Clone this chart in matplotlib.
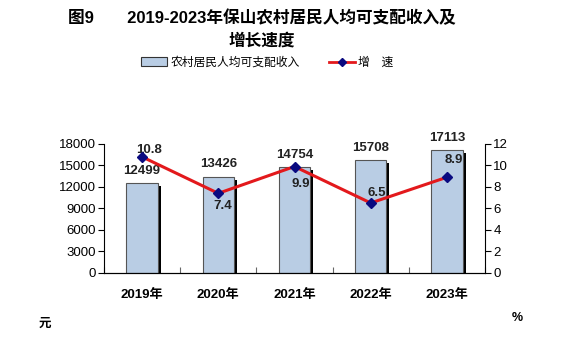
import numpy as np
from matplotlib import pyplot as plt
from matplotlib.patches import Patch
from matplotlib.lines import Line2D

plt.rcParams['font.family'] = ['Liberation Sans', 'Noto Sans CJK SC', 'DejaVu Sans']

years = ["2019年", "2020年", "2021年", "2022年", "2023年"]
income = [12499, 13426, 14754, 15708, 17113]
growth = [10.8, 7.4, 9.9, 6.5, 8.9]

# label offsets (pixels) of growth labels from their points
growth_offsets = [(7, 7), (4, -13), (6, -17), (6, 10), (7, 17)]

bar_clr = "#b9cde4"
line_clr = "#e3191c"
marker_clr = "#0a0a80"

W, H = 566, 337
fig = plt.figure(figsize=(W / 100, H / 100), dpi=100)
ax = fig.add_axes([104 / W, 1 - 272.7 / H, (485 - 104) / W, (272.7 - 144) / H])
ax2 = ax.twinx()

xs = np.arange(len(years))
bw = 0.41
# shadow bars (black, offset right/down)
dx = 3 / 76.2
dy = 3 / 128.7 * 18000
ax.bar(xs + dx, [v - dy for v in income], bw, color="black", zorder=1)
ax.bar(xs, income, bw, color=bar_clr, edgecolor="#555555", linewidth=0.8, zorder=2)
for x, v in zip(xs, income):
    ax.text(x, v + 900, str(v), ha="center", va="bottom", fontsize=9.5,
            fontweight="bold", color="#222222")

ax.set_xlim(-0.5, len(years) - 0.5)
ax.set_ylim(0, 18000)
ax.set_yticks(np.arange(0, 18001, 3000))
ax.set_xticks(np.arange(-0.5, len(years) + 0.5, 1), minor=False)
ax.set_xticklabels([])
ax.tick_params(axis="x", direction="in", length=4, width=0.8, color="#666666")
ax.set_xticks(xs, minor=True)
ax.set_xticklabels(years, minor=True, fontsize=9.5, fontweight="bold")
ax.tick_params(axis="x", which="minor", length=0, pad=12)
ax.tick_params(axis="y", labelsize=9.5, length=4, pad=2)

ax2.plot(xs, growth, color=line_clr, linewidth=2.2, marker="D", markersize=5,
         markerfacecolor=marker_clr, markeredgecolor=marker_clr, zorder=5)
for x, v, (ox, oy) in zip(xs, growth, growth_offsets):
    ax2.annotate(f"{v}", (x, v), xytext=(ox * 0.72, oy * 0.72),
                 textcoords="offset points", ha="center", va="center",
                 fontsize=9.5, fontweight="bold", color="#222222")
ax2.set_ylim(0, 12)
ax2.set_yticks(np.arange(0, 13, 2))
ax2.tick_params(axis="y", labelsize=9.5, length=4, pad=2)

for a in (ax, ax2):
    a.spines["top"].set_visible(False)
for s in ("left", "right", "bottom"):
    ax2.spines[s].set_color("black")
ax2.spines["left"].set_visible(False)
ax.spines["right"].set_visible(False)

fig.text(262 / W, 1 - 18 / H, "图9　　2019-2023年保山农村居民人均可支配收入及", ha="center",
         va="center", fontsize=12, fontweight="bold")
fig.text(262 / W, 1 - 41 / H, "增长速度", ha="center", va="center", fontsize=12,
         fontweight="bold")

handles = [Patch(facecolor=bar_clr, edgecolor="#333333", linewidth=0.8),
           Line2D([0], [0], color=line_clr, linewidth=2, marker="D", markersize=4,
                  markerfacecolor=marker_clr, markeredgecolor=marker_clr)]
fig.legend(handles, ["农村居民人均可支配收入", "增　速"], loc="center",
           bbox_to_anchor=(0.472, 1 - 63 / H), ncol=2, frameon=False, fontsize=8.5,
           handlelength=2.2, handleheight=0.8, columnspacing=2.5, handletextpad=0.3)

fig.text(45 / W, 1 - 324 / H, "元", ha="center", va="center", fontsize=9, fontweight="bold")
fig.text(517 / W, 1 - 318 / H, "%", ha="center", va="center", fontsize=9, fontweight="bold")

fig.savefig("out.png", dpi=100)
